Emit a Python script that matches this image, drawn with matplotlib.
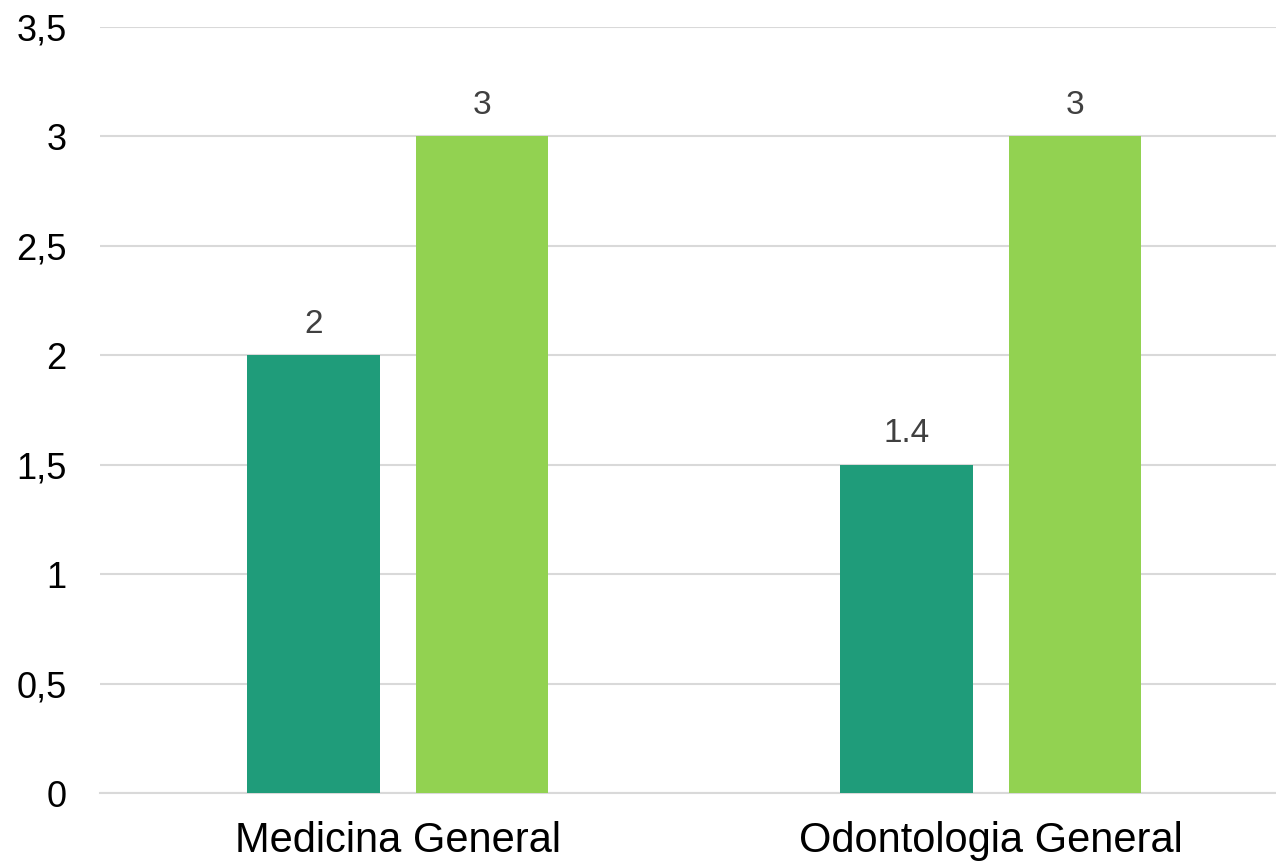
import matplotlib.pyplot as plt
import numpy as np

plt.rcParams['font.family'] = ['Liberation Sans', 'DejaVu Sans']

categorias = ['Medicina General', 'Odontologia General']
serie_1 = [2, 1.5]
serie_2 = [3, 3]
etiquetas_1 = ['2', '1.4']
etiquetas_2 = ['3', '3']
ticks_y = [0, 0.5, 1, 1.5, 2, 2.5, 3, 3.5]
ticks_y_txt = ['0', '0,5', '1', '1,5', '2', '2,5', '3', '3,5']

fig = plt.figure(figsize=(12.76, 8.63), dpi=100)
ax = fig.add_axes([100 / 1276, 70 / 863, 1176 / 1276, 766 / 863])

x = np.arange(len(categorias))
ancho = 0.223
desp = 0.142
b1 = ax.bar(x - desp, serie_1, ancho, color='#1F9C7A', zorder=3)
b2 = ax.bar(x + desp, serie_2, ancho, color='#92D251', zorder=3)

for barras, etiquetas in ((b1, etiquetas_1), (b2, etiquetas_2)):
    for b, t in zip(barras, etiquetas):
        ax.text(b.get_x() + b.get_width() / 2, b.get_height() + 0.07, t,
                ha='center', va='bottom', fontsize=24, color='#404040')

ax.set_xlim(-0.502, 1.481)
ax.set_ylim(0, 3.5)
ax.set_yticks(ticks_y)
ax.set_yticklabels(ticks_y_txt)
ax.set_xticks(x)
ax.set_xticklabels(categorias)
ax.tick_params(axis='y', length=0, pad=24, labelsize=26)
ax.tick_params(axis='x', length=0, pad=20, labelsize=30)
ax.grid(axis='y', color='#D9D9D9', linewidth=1.5, zorder=0)
for s in ['top', 'right', 'left']:
    ax.spines[s].set_visible(False)
ax.spines['bottom'].set_color('#D9D9D9')
ax.spines['bottom'].set_linewidth(1.5)

fig.savefig('out.png', dpi=100)
